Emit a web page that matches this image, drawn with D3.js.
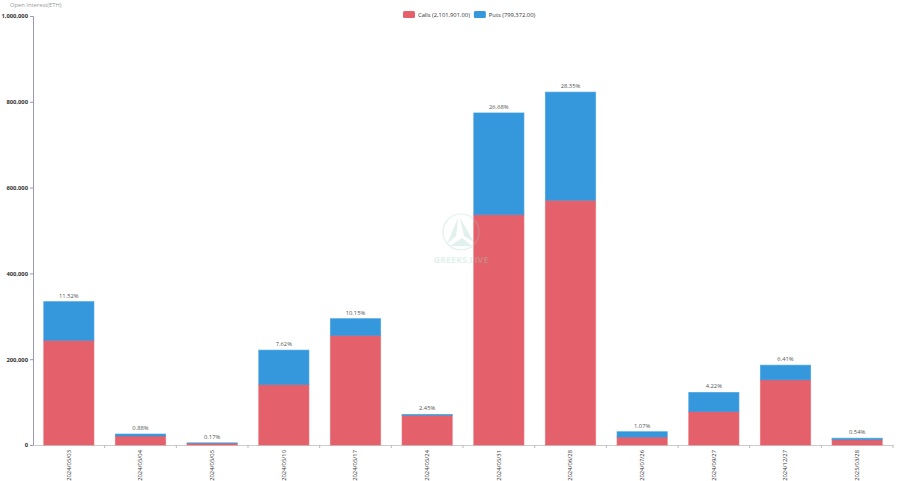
<!DOCTYPE html>
<html><head><meta charset="utf-8">
<script src="https://cdn.jsdelivr.net/npm/d3@7"></script>
<style>body{margin:0;background:#fff;font-family:"Open Sans",Roboto,sans-serif}</style>
</head><body><svg id="c" width="900" height="481"></svg>
<script>
const categories = ["2024/05/03","2024/05/04","2024/05/05","2024/05/10","2024/05/17","2024/05/24","2024/05/31","2024/06/28","2024/07/26","2024/09/27","2024/12/27","2025/03/28"];
const calls = [244000,21000,4000,141000,255500,69000,537000,570500,18500,78000,152000,12400];
const puts = [90200,4500,900,80100,39000,2100,237000,252000,12500,44400,34000,3300];
const pctLabels = ["11.52%","0.88%","0.17%","7.62%","10.15%","2.45%","26.68%","28.35%","1.07%","4.22%","6.41%","0.54%"];
const yTicks = [0,200000,400000,600000,800000,1000000];
const legendLabels = ["Calls (2,101,901.00)","Puts (799,372.00)"];
const colors = ["#e4606a","#3598dc"];

const svg = d3.select("#c");
const m = {l:33, r:893, t:16, b:445};
const x = d3.scaleBand().domain(categories).range([m.l, m.r]).paddingInner(0.3).paddingOuter(0.15);
const y = d3.scaleLinear().domain([0,1000000]).range([m.b, m.t]);
const FS = 5.8;

// title
svg.append("text").attr("x",10).attr("y",7).attr("font-size",FS).attr("fill","#999").text("Open Interest(ETH)");

// y axis
const ya = svg.append("g").attr("transform",`translate(${m.l},0)`)
  .call(d3.axisLeft(y).tickValues(yTicks).tickFormat(d3.format(",")).tickSize(3).tickPadding(2));
ya.select(".domain").attr("stroke","#9a9ab0");
ya.selectAll(".tick line").attr("stroke","#9a9ab0");
ya.selectAll("text").attr("font-size",FS).attr("fill","#333").attr("font-weight","bold").attr("font-family","'Open Sans',sans-serif");

// x axis
const xa = svg.append("g").attr("transform",`translate(0,${m.b})`)
  .call(d3.axisBottom(x).tickSize(0).tickPadding(4));
xa.select(".domain").attr("stroke","#ccc").attr("stroke-width",1.2);
xa.selectAll(".tick text").attr("font-size",FS).attr("fill","#333").attr("font-family","'Open Sans',sans-serif")
  .attr("transform","rotate(-90)").attr("text-anchor","end").attr("x",-5).attr("y",0).attr("dy","0.32em");
const step = x.step();
svg.append("g").selectAll("line").data(d3.range(1,categories.length+1)).join("line")
  .attr("x1",i=>x(categories[0]) - x.paddingInner()*step/2 + i*step).attr("x2",i=>x(categories[0]) - x.paddingInner()*step/2 + i*step)
  .attr("y1",m.b).attr("y2",m.b+3).attr("stroke","#bbb");

// bars
const stack = d3.stack().keys([0,1]).value((d,k)=>d[k]);
const rows = categories.map((c,i)=>[calls[i],puts[i]]);
const series = stack(rows);
svg.append("g").selectAll("g").data(series).join("g")
  .attr("fill",(d,i)=>colors[i]).attr("stroke",(d,i)=>colors[i])
  .selectAll("rect").data((d)=>d).join("rect")
  .attr("x",(d,i)=>x(categories[i])).attr("width",x.bandwidth())
  .attr("y",d=>y(d[1])).attr("height",d=>y(d[0])-y(d[1]))
  .attr("stroke-opacity",0.6).attr("stroke-width",1);

// labels
svg.append("g").selectAll("text").data(categories).join("text")
  .attr("x",c=>x(c)+x.bandwidth()/2)
  .attr("y",(c,i)=>y(calls[i]+puts[i])-4)
  .attr("text-anchor","middle").attr("font-size",FS).attr("fill","#555")
  .text((c,i)=>pctLabels[i]);

// watermark (on top, faint)
const wm = svg.append("g").attr("opacity",0.3);
wm.append("circle").attr("cx",461).attr("cy",232).attr("r",18).attr("fill","none").attr("stroke","#9fd3c7").attr("stroke-width",1.2);
wm.append("path").attr("d","M458,218 L447,244 L456,236 Z M460,218 L474,242 L464,236 Z M450,246 L472,246 L462,238 Z").attr("fill","#9fd3c7");
wm.append("text").attr("x",461).attr("y",263).attr("text-anchor","middle").attr("font-size",9).attr("font-weight","bold").attr("fill","#9fd3c7").text("GREEKS.LIVE");

// legend
const lg = svg.append("g");
let lx = 403;
legendLabels.forEach((t,i)=>{
  lg.append("rect").attr("x",lx).attr("y",11).attr("width",12).attr("height",7).attr("rx",1.5).attr("fill",colors[i]);
  const tx = lg.append("text").attr("x",lx+15).attr("y",17).attr("font-size",FS).attr("fill","#333").text(t);
  lx += 15 + tx.node().getComputedTextLength() + 4;
});
</script></body></html>
